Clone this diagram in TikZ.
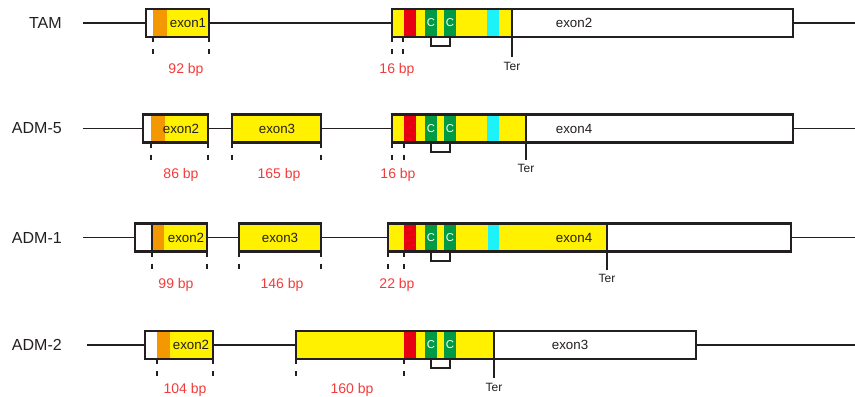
\documentclass[tikz,border=0pt]{standalone}
\usepackage{fontspec}
\setmainfont{Liberation Sans}
\usetikzlibrary{positioning}

\definecolor{exyellow}{HTML}{FFF100}
\definecolor{exorange}{HTML}{F39800}
\definecolor{exred}{HTML}{E60012}
\definecolor{exgreen}{HTML}{009944}
\definecolor{excyan}{HTML}{1CF2F8}
\definecolor{bpred}{HTML}{F23C3C}
\definecolor{inkgray}{HTML}{231F20}

% red box, the two C boxes and their bracket (row-relative coordinates)
\newcommand{\cmotif}[1]{%
    \fill[exred] (404,-14) rectangle (416,14);
    \node[cbox] (#1-c1) at (431,0) {C};
    \node[cbox] (#1-c2) at (450,0) {C};
    \draw[bracket] (#1-c1.south) -- ++(0,9) -| (#1-c2.south);
}

\begin{document}
\begin{tikzpicture}[
    x=0.75pt, y=-0.75pt,
    intron/.style={draw=inkgray, line width=1.3pt},
    exonbox/.style={draw=inkgray, line width=1.6pt},
    tickline/.style={draw=inkgray, line width=1.3pt, dash pattern=on 3.8pt off 5.2pt},
    bracket/.style={draw=inkgray, line width=1.3pt},
    terline/.style={draw=inkgray, line width=1.3pt},
    cbox/.style={fill=exgreen, text=white, minimum width=9pt, minimum height=21pt, inner sep=0pt, font=\fontsize{8.5}{9}\selectfont},
    bp/.style={text=bpred, font=\fontsize{10.5}{12}\selectfont},
    ter/.style={text=inkgray, font=\fontsize{9}{10}\selectfont},
    rowname/.style={anchor=east, inner sep=0pt, text=inkgray, font=\fontsize{12}{14}\selectfont},
    exname/.style={text=inkgray, font=\fontsize{10}{12}\selectfont},
]
    \useasboundingbox (0,0) rectangle (855,396);

    % TAM
    \begin{scope}[shift={(0,23)}]
        \node[rowname] (tam) at (62,0) {TAM};
        \draw[intron] (83,0) -- (855,0);
        \fill[white] (146,-14) rectangle (209,14);
        \fill[exorange] (153,-14) rectangle (167,14);
        \fill[exyellow] (167,-14) rectangle (209,14);
        \draw[exonbox] (146,-14) rectangle (209,14);
        \node[exname] (tam-e1) at (188,0) {exon1};
        \fill[white] (392,-14) rectangle (793,14);
        \fill[exyellow] (392,-14) rectangle (512,14);
        \fill[excyan] (487,-14) rectangle (499,14);
        \cmotif{tam}
        \draw[exonbox] (392,-14) rectangle (793,14);
        \draw[exonbox] (512,-14) -- (512,14);
        \node[exname] (tam-e2) at (574,0) {exon2};
        \node[ter] (tam-ter) at (512,43) {Ter};
        \draw[terline] (512,14) -- (tam-ter.north);
        \foreach \x in {153,209,392,403}
            \draw[tickline] (\x,14) -- ++(0,18);
        \node[bp] (tam-bp1) at (186,47) {92 bp};
        \node[bp] (tam-bp2) at (397,47) {16 bp};
    \end{scope}

    % ADM-5
    \begin{scope}[shift={(0,128.5)}]
        \node[rowname] (adm5) at (62,0) {ADM-5};
        \draw[intron] (83,0) -- (855,0);
        \fill[white] (143,-14) rectangle (208,14);
        \fill[exorange] (151,-14) rectangle (165,14);
        \fill[exyellow] (165,-14) rectangle (208,14);
        \draw[exonbox] (143,-14) rectangle (208,14);
        \node[exname] (adm5-e2) at (181,0) {exon2};
        \fill[exyellow] (232,-14) rectangle (321,14);
        \draw[exonbox] (232,-14) rectangle (321,14);
        \node[exname] (adm5-e3) at (277,0) {exon3};
        \fill[white] (392,-14) rectangle (793,14);
        \fill[exyellow] (392,-14) rectangle (526,14);
        \fill[excyan] (487,-14) rectangle (499,14);
        \cmotif{adm5}
        \draw[exonbox] (392,-14) rectangle (793,14);
        \draw[exonbox] (526,-14) -- (526,14);
        \node[exname] (adm5-e4) at (574,0) {exon4};
        \node[ter] (adm5-ter) at (526,40) {Ter};
        \draw[terline] (526,14) -- (adm5-ter.north);
        \foreach \x in {151,208,232,321,392,404}
            \draw[tickline] (\x,14) -- ++(0,18);
        \node[bp] (adm5-bp1) at (181,46) {86 bp};
        \node[bp] (adm5-bp2) at (279,46) {165 bp};
        \node[bp] (adm5-bp3) at (398,46) {16 bp};
    \end{scope}

    % ADM-1
    \begin{scope}[shift={(0,237.5)}]
        \node[rowname] (adm1) at (62,0) {ADM-1};
        \draw[intron] (83,0) -- (855,0);
        \fill[white] (135,-14) rectangle (207,14);
        \fill[exorange] (152,-14) rectangle (164,14);
        \fill[exyellow] (164,-14) rectangle (207,14);
        \draw[exonbox] (135,-14) rectangle (207,14);
        \draw[exonbox] (152,-14) -- (152,14);
        \node[exname] (adm1-e2) at (186,0) {exon2};
        \fill[exyellow] (239,-14) rectangle (321,14);
        \draw[exonbox] (239,-14) rectangle (321,14);
        \node[exname] (adm1-e3) at (280,0) {exon3};
        \fill[white] (388,-14) rectangle (791,14);
        \fill[exyellow] (388,-14) rectangle (607,14);
        \fill[excyan] (488,-14) rectangle (499,14);
        \cmotif{adm1}
        \draw[exonbox] (388,-14) rectangle (791,14);
        \draw[exonbox] (607,-14) -- (607,14);
        \node[exname] (adm1-e4) at (574,0) {exon4};
        \node[ter] (adm1-ter) at (607,41) {Ter};
        \draw[terline] (607,14) -- (adm1-ter.north);
        \foreach \x in {152,207,239,321,388,404}
            \draw[tickline] (\x,14) -- ++(0,18);
        \node[bp] (adm1-bp1) at (176,47) {99 bp};
        \node[bp] (adm1-bp2) at (282,47) {146 bp};
        \node[bp] (adm1-bp3) at (397,47) {22 bp};
    \end{scope}

    % ADM-2
    \begin{scope}[shift={(0,345)}]
        \node[rowname] (adm2) at (62,0) {ADM-2};
        \draw[intron] (87,0) -- (855,0);
        \fill[white] (145,-14) rectangle (213,14);
        \fill[exorange] (157,-14) rectangle (170,14);
        \fill[exyellow] (170,-14) rectangle (213,14);
        \draw[exonbox] (145,-14) rectangle (213,14);
        \node[exname] (adm2-e2) at (191,0) {exon2};
        \fill[white] (296,-14) rectangle (696,14);
        \fill[exyellow] (296,-14) rectangle (494,14);
        \cmotif{adm2}
        \draw[exonbox] (296,-14) rectangle (696,14);
        \draw[exonbox] (494,-14) -- (494,14);
        \node[exname] (adm2-e3) at (570,0) {exon3};
        \node[ter] (adm2-ter) at (494,42) {Ter};
        \draw[terline] (494,14) -- (adm2-ter.north);
        \foreach \x in {157,213,296,404}
            \draw[tickline] (\x,14) -- ++(0,18);
        \node[bp] (adm2-bp1) at (185,45) {104 bp};
        \node[bp] (adm2-bp2) at (352,45) {160 bp};
    \end{scope}
\end{tikzpicture}
\end{document}
